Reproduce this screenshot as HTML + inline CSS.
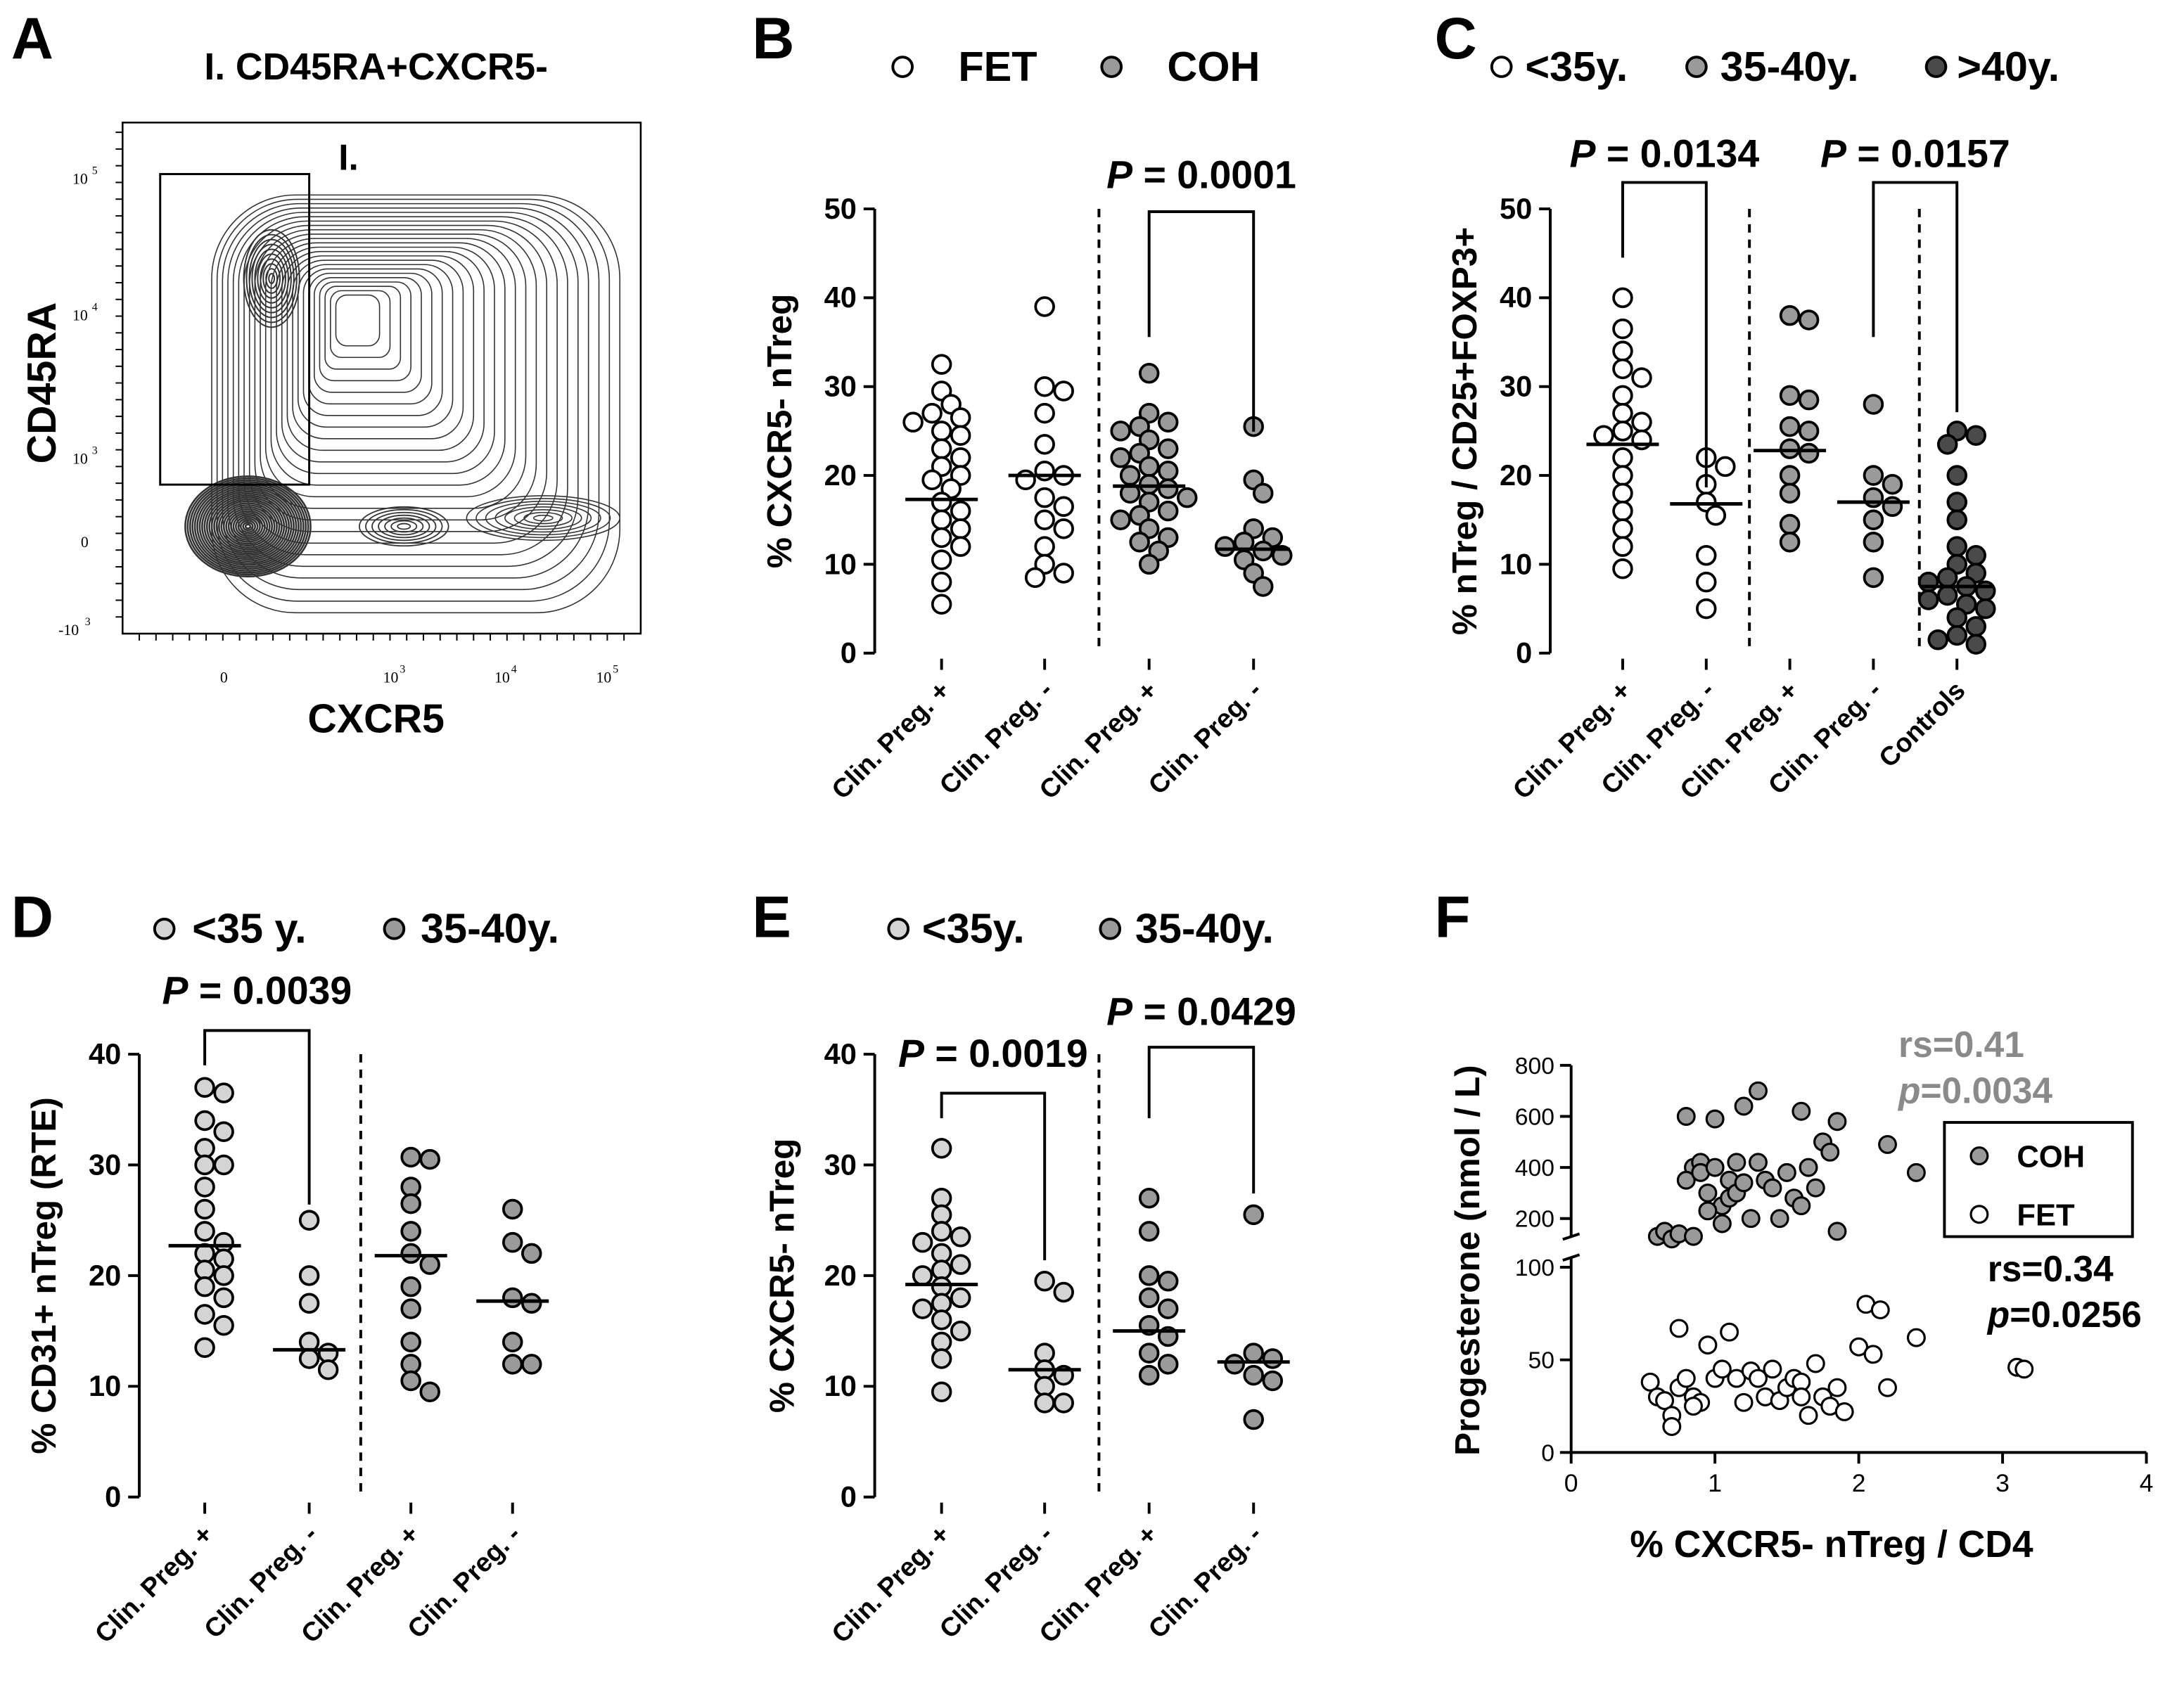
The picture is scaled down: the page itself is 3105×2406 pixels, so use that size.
<!DOCTYPE html>
<html><head><meta charset="utf-8">
<style>
html,body{margin:0;padding:0;background:#fff;}
svg{display:block;font-family:"Liberation Sans",Arial,sans-serif;font-weight:bold;}
</style></head>
<body>
<svg id="fig" width="3105" height="2406" viewBox="0 0 1568 1215" xmlns="http://www.w3.org/2000/svg">
<rect width="1568" height="1215" fill="#fff"/>
<text x="8" y="42" font-size="42">A</text>
<text x="540" y="42" font-size="42">B</text>
<text x="1030" y="42" font-size="42">C</text>
<text x="8" y="673" font-size="42">D</text>
<text x="540" y="673" font-size="42">E</text>
<text x="1030" y="673" font-size="42">F</text>

<g>
<text x="270" y="57" font-size="27" text-anchor="middle">I. CD45RA+CXCR5-</text>
<rect x="88" y="88" width="372" height="367" fill="none" stroke="#000" stroke-width="1.3"/>
<g id="contours" fill="none" stroke="#333" stroke-width="0.9"></g>
<rect x="115" y="125" width="107" height="223" fill="none" stroke="#000" stroke-width="1.5"/>
<text x="243" y="122" font-size="26">I.</text>
<text x="270" y="526" font-size="29" text-anchor="middle">CXCR5</text>
<text transform="translate(40,275) rotate(-90)" font-size="29" text-anchor="middle">CD45RA</text>
<g font-size="11" font-weight="normal" font-family="Liberation Serif,serif">
<text x="52" y="132">10</text><text x="66" y="125" font-size="8">5</text>
<text x="52" y="230">10</text><text x="66" y="223" font-size="8">4</text>
<text x="52" y="333">10</text><text x="66" y="326" font-size="8">3</text>
<text x="58" y="393">0</text>
<text x="42" y="456">-10</text><text x="61" y="449" font-size="8">3</text>
</g>
<g font-size="11" font-weight="normal" font-family="Liberation Serif,serif">
<text x="158" y="490">0</text>
<text x="275" y="490">10</text><text x="287" y="483" font-size="8">3</text>
<text x="355" y="490">10</text><text x="367" y="483" font-size="8">4</text>
<text x="428" y="490">10</text><text x="440" y="483" font-size="8">5</text>
</g>
<g id="flowticks" stroke="#000" stroke-width="1"></g>
</g>

<g id="charts"></g>
</svg>
<script>
const NS="http://www.w3.org/2000/svg";
const root=document.getElementById('charts');
function mk(tag,attrs,parent){const e=document.createElementNS(NS,tag);for(const k in attrs)e.setAttribute(k,attrs[k]);(parent||root).appendChild(e);return e;}
function txt(s,attrs,parent){const e=mk('text',attrs,parent);e.textContent=s;return e;}

(function(){
 const g=document.getElementById('contours');
 function blob(cx,cy,rx,ry,n,sw){for(let i=1;i<=n;i++){const e=mk('ellipse',{cx:cx,cy:cy,rx:rx*i/n,ry:ry*i/n,'stroke-width':sw},g);
 
 }}
 // large rounded region
 const n=24;
 for(let i=0;i<n;i++){
  const f=i/n;
  const x1=152+f*(245-152), x2=445-f*(445-265), y1=140+f*(215-140), y2=440-f*(440-240);
  const r=Math.max(8,60*(1-f));
  const e=mk('rect',{x:x1,y:y1,width:x2-x1,height:y2-y1,rx:r,ry:r,'stroke-width':0.8},g);
  
  
 }
 blob(178,378,45,36,26,1.3);
 blob(195,200,20,35,10,1);
 blob(290,378,32,14,7,0.9);
 blob(390,372,55,16,8,0.8);
 const t=document.getElementById('flowticks');
 for(let i=0;i<30;i++){const x=100+i*12;const l=mk('line',{x1:x,y1:455,x2:x,y2:460},t);}
 for(let i=0;i<30;i++){const y=95+i*12;const l=mk('line',{x1:83,y1:y,x2:88,y2:y},t);}
})();

const catLabels=["Clin. Preg. +","Clin. Preg. -","Clin. Preg. +","Clin. Preg. -"];
const catLabelsC=["Clin. Preg. +","Clin. Preg. -","Clin. Preg. +","Clin. Preg. -","Controls"];
const yTicks50=[0,10,20,30,40,50];
const yTicks40=[0,10,20,30,40];

const B1=[32.5,29.5,28,27,26,25,26.5,24.5,23,22,21,20,19.5,18.5,17,16,15,14,13,12,10.5,8,5.5];
const B2=[39,30,29.5,27,23.5,20.5,20,19.5,17.5,16.5,15,14,12,10,9,8.5];
const B3=[31.5,27,26,25.5,25,24,23,22.5,22,21,20.5,20,19,18.5,18,17.5,17,16,15.5,15,14,13,12.5,11.5,10];
const B4=[25.5,19.5,18,14,13,12.5,12,11.5,11,10.5,9,7.5];
const Bmed=[17.3,20,18.8,11.7];

const C1=[40,36.5,34,32,31,29,27,26,25,24.5,24,22,20,18,16,14,12,9.5];
const C2=[22,21,19,17,15.5,11,8,5];
const C3=[38,37.5,29,28.5,25.5,25,23,22.5,20,18,14.5,12.5];
const C4=[28,20,19,17.5,16.5,15,12.5,8.5];
const C5=[25,24.5,23.5,20,17,15,12,11,10,9,8.5,8,7.5,7,6.5,6,5.5,5,4,3,2,1.5,1];
const Cmed=[23.5,16.8,22.8,17,7.5];

const D1=[37,36.5,34,33,31.5,30,30,28,26,24,23,22,21.5,20.5,20,19,18,16.5,15.5,13.5];
const D2=[25,20,17.5,14,12.5,13,11.5];
const D3=[30.5,30.7,28,26.5,24,22,21,19,17,14,12,9.5,10.5];
const D4=[26,23,22,18,17.5,14,12,12];
const Dmed=[22.7,13.3,21.8,17.7];

const E1=[31.5,27,25.5,24,23.5,23,22,21,20.5,20,19,18,17.5,17,16,15,14,12.5,9.5];
const E2=[19.5,18.5,13,11.5,11,10,8.5,8.5];
const E3=[27,24,20,19.5,18,17,15.5,14.5,13,12,11];
const E4=[25.5,13,12.5,12,11,10.5,7];
const Emed=[19.2,11.5,15,12.2];

const F_cohX=[0.6,0.65,0.7,0.75,0.8,0.85,0.9,0.95,0.8,0.85,0.9,1.0,1.0,1.05,1.1,1.1,1.15,1.15,1.2,1.2,1.25,1.3,1.3,1.35,1.4,1.45,1.5,1.55,1.6,1.6,1.65,1.7,1.75,1.8,1.85,1.85,2.2,2.4,1.05,0.95];
const F_cohY=[130,150,120,140,600,400,420,300,350,130,380,590,400,250,350,280,420,300,640,340,200,700,420,350,320,200,380,280,620,250,400,320,500,460,580,150,490,380,180,230];
const F_fetX=[0.55,0.6,0.65,0.7,0.7,0.75,0.75,0.8,0.85,0.9,0.95,1.0,1.05,1.1,1.15,1.2,1.25,1.3,1.35,1.4,1.45,1.5,1.55,1.6,1.65,1.7,1.75,1.8,1.85,1.9,2.0,2.05,2.1,2.15,2.2,2.4,3.1,3.15,0.85,1.6];
const F_fetY=[38,30,28,20,14,67,35,40,30,27,58,40,45,65,40,27,44,40,30,45,28,35,40,38,20,48,30,25,35,22,57,80,53,77,35,62,46,45,25,30];
const FxTicks=[0,1,2,3,4];
const FyLow=[0,50,100];
const FyHigh=[200,400,600,800];

const WHITE="#ffffff",LIGHT="#d4d4d4",GREY="#9a9a9a",DARK="#4a4a4a";
const R=6.5;

function swarm(vals,cx,yf,fill,g,name){
 const placed=[];
 const sorted=vals.slice().sort((a,b)=>b-a);
 sorted.forEach(v=>{
  const y=yf(v);let x=cx;
  const cands=[0];for(let k=1;k<8;k++){cands.push(k*R*1.05,-k*R*1.05);}
  for(const o of cands){const xx=cx+o;if(placed.every(p=>Math.hypot(p[0]-xx,p[1]-y)>=2*R-1.5)){x=xx;break;}}
  placed.push([x,y]);
  const c=mk('circle',{cx:x,cy:y,r:R,fill:fill,stroke:'#000','stroke-width':1.9},g);
  
  
 });
}

function dotPanel(o){
 const g=mk('g',{});
 
 
 const yf=v=>o.y0-v/o.ymax*(o.y0-o.y1);
 const ax=mk('line',{x1:o.ax,y1:o.y1,x2:o.ax,y2:o.y0,stroke:'#000','stroke-width':2},g);
 
 o.ticks.forEach(t=>{
  const l=mk('line',{x1:o.ax-8,y1:yf(t),x2:o.ax,y2:yf(t),stroke:'#000','stroke-width':2},g);
  
  const tx=txt(String(t),{x:o.ax-13,y:yf(t)+7,'font-size':21,'text-anchor':'end'},g);
  
 });
 const yt=txt(o.ytitle,{transform:`translate(${o.ytx},${(o.y0+o.y1)/2}) rotate(-90)`,'font-size':25,'text-anchor':'middle'},g);
 
 o.cols.forEach((cx,i)=>{
  const l=mk('line',{x1:cx,y1:o.y0+4,x2:cx,y2:o.y0+12,stroke:'#000','stroke-width':2},g);
  
  const t=txt(o.labels[i],{transform:`translate(${cx+7},${o.y0+28}) rotate(-45)`,'font-size':19,'text-anchor':'end'},g);
  
 });
 o.dashes.forEach(x=>{const d=mk('line',{x1:x,y1:o.y1,x2:x,y2:o.y0,stroke:'#000','stroke-width':2,'stroke-dasharray':'6,5'},g);
  });
 o.data.forEach((arr,i)=>swarm(arr,o.cols[i],yf,o.fills[i],g,'data-point'));
 o.med.forEach((m,i)=>{const l=mk('line',{x1:o.cols[i]-26,y1:yf(m),x2:o.cols[i]+26,y2:yf(m),stroke:'#000','stroke-width':2.5},g);
  });
 o.brackets.forEach(b=>{
  const p=mk('path',{d:`M${b.x1},${b.l1}V${b.top}H${b.x2}V${b.l2}`,fill:'none',stroke:'#000','stroke-width':2},g);
  
  const t=mk('text',{x:(b.x1+b.x2)/2+(b.dx||0),y:b.ty,'font-size':28,'text-anchor':'middle'},g);
  
  const it=mk('tspan',{'font-style':'italic'},t);it.textContent='P';
  const rest=mk('tspan',{},t);rest.textContent=' = '+b.p;
 });
 o.legend.forEach(l=>{
  const c=mk('circle',{cx:l.cx,cy:l.cy,r:7,fill:l.fill,stroke:'#000','stroke-width':2},g);
  
  const t=txt(l.t,{x:l.cx+l.gap,y:l.cy+10,'font-size':30},g);
  
 });
}

dotPanel({name:'panel-b',ax:628,y0:469,y1:150,ymax:50,ticks:yTicks50,ytitle:'% CXCR5- nTreg',ytx:568,
 cols:[676,750,825,900],labels:catLabels,dashes:[789],data:[B1,B2,B3,B4],fills:[WHITE,WHITE,GREY,GREY],med:Bmed,
 brackets:[{x1:825,x2:900,top:152,l1:242,l2:310,ty:135,p:'0.0001'}],
 legend:[{cx:648,cy:48,fill:WHITE,t:'FET',gap:40},{cx:798,cy:48,fill:GREY,t:'COH',gap:40}]});

dotPanel({name:'panel-c',ax:1113,y0:469,y1:150,ymax:50,ticks:yTicks50,ytitle:'% nTreg / CD25+FOXP3+',ytx:1060,
 cols:[1165,1225,1285,1345,1405],labels:catLabelsC,dashes:[1256,1378],data:[C1,C2,C3,C4,C5],fills:[WHITE,WHITE,GREY,GREY,DARK],med:Cmed,
 brackets:[{x1:1165,x2:1225,top:131,l1:185,l2:350,ty:120,p:'0.0134'},{x1:1345,x2:1405,top:131,l1:242,l2:296,ty:120,p:'0.0157'}],
 legend:[{cx:1078,cy:48,fill:WHITE,t:'<35y.',gap:17},{cx:1218,cy:48,fill:GREY,t:'35-40y.',gap:17},{cx:1390,cy:48,fill:DARK,t:'>40y.',gap:15}]});

dotPanel({name:'panel-d',ax:100,y0:1075,y1:757,ymax:40,ticks:yTicks40,ytitle:'% CD31+ nTreg (RTE)',ytx:40,
 cols:[147,222,295,368],labels:catLabels,dashes:[259],data:[D1,D2,D3,D4],fills:[LIGHT,LIGHT,GREY,GREY],med:Dmed,
 brackets:[{x1:147,x2:222,top:740,l1:765,l2:865,ty:721,p:'0.0039'}],
 legend:[{cx:118,cy:667,fill:LIGHT,t:'<35 y.',gap:20},{cx:283,cy:667,fill:GREY,t:'35-40y.',gap:19}]});

dotPanel({name:'panel-e',ax:628,y0:1075,y1:757,ymax:40,ticks:yTicks40,ytitle:'% CXCR5- nTreg',ytx:570,
 cols:[676,750,825,900],labels:catLabels,dashes:[789],data:[E1,E2,E3,E4],fills:[LIGHT,LIGHT,GREY,GREY],med:Emed,
 brackets:[{x1:676,x2:750,top:785,l1:803,l2:905,ty:766,p:'0.0019'},{x1:825,x2:900,top:752,l1:803,l2:857,ty:736,p:'0.0429'}],
 legend:[{cx:645,cy:667,fill:LIGHT,t:'<35y.',gap:17},{cx:797,cy:667,fill:GREY,t:'35-40y.',gap:18}]});

(function(){
 const g=mk('g',{});
 
 
 const x0=1128,x4=1541,yB=1043;
 const xf=v=>x0+v*(x4-x0)/4;
 const yLow=v=>yB-v*(yB-910)/100;
 const yHigh=v=>875-(v-200)*(875-765)/600;
 const a1=mk('line',{x1:x0,y1:yB,x2:x4,y2:yB,stroke:'#000','stroke-width':2},g);
 
 const a2=mk('line',{x1:x0,y1:yB,x2:x0,y2:903,stroke:'#000','stroke-width':2},g);
 
 const a3=mk('line',{x1:x0,y1:888,x2:x0,y2:765,stroke:'#000','stroke-width':2},g);
 
 const b1=mk('line',{x1:x0-6,y1:905,x2:x0+6,y2:901,stroke:'#000','stroke-width':2},g);
 
 const b2=mk('line',{x1:x0-6,y1:890,x2:x0+6,y2:886,stroke:'#000','stroke-width':2},g);
 
 FxTicks.forEach(t=>{
  const l=mk('line',{x1:xf(t),y1:yB,x2:xf(t),y2:yB+8,stroke:'#000','stroke-width':2},g);
  
  const tx=txt(String(t),{x:xf(t),y:yB+28,'font-size':18,'text-anchor':'middle','font-weight':'normal'},g);
  
 });
 FyLow.forEach(t=>{
  const l=mk('line',{x1:x0-8,y1:yLow(t),x2:x0,y2:yLow(t),stroke:'#000','stroke-width':2},g);
  
  const tx=txt(String(t),{x:x0-12,y:yLow(t)+6,'font-size':17,'text-anchor':'end','font-weight':'normal'},g);
  
 });
 FyHigh.forEach(t=>{
  const l=mk('line',{x1:x0-8,y1:yHigh(t),x2:x0,y2:yHigh(t),stroke:'#000','stroke-width':2},g);
  
  const tx=txt(String(t),{x:x0-12,y:yHigh(t)+6,'font-size':17,'text-anchor':'end','font-weight':'normal'},g);
  
 });
 const xt=txt('% CXCR5- nTreg / CD4',{x:1315,y:1118,'font-size':27,'text-anchor':'middle'},g);
 
 const yt=txt('Progesterone (nmol / L)',{transform:'translate(1062,905) rotate(-90)','font-size':25,'text-anchor':'middle'},g);
 
 F_cohX.forEach((x,i)=>{
  const c=mk('circle',{cx:xf(x),cy:yHigh(F_cohY[i]),r:6,fill:GREY,stroke:'#000','stroke-width':1.6},g);
  
 });
 F_fetX.forEach((x,i)=>{
  const c=mk('circle',{cx:xf(x),cy:yLow(F_fetY[i]),r:6,fill:WHITE,stroke:'#000','stroke-width':1.6},g);
  
 });
 const lb=mk('rect',{x:1396,y:806,width:135,height:82,fill:'#fff',stroke:'#000','stroke-width':2},g);
 
 const lc1=mk('circle',{cx:1421,cy:830,r:6,fill:GREY,stroke:'#000','stroke-width':1.6},g);
 
 const lt1=txt('COH',{x:1448,y:838,'font-size':22},g);
 
 const lc2=mk('circle',{cx:1421,cy:872,r:6,fill:WHITE,stroke:'#000','stroke-width':1.6},g);
 
 const lt2=txt('FET',{x:1448,y:880,'font-size':22},g);
 
 const r1=txt('rs=0.41',{x:1363,y:759,'font-size':26,fill:'#8a8a8a'},g);
 
 const p1=mk('text',{x:1363,y:792,'font-size':26,fill:'#8a8a8a'},g);
 
 const pi1=mk('tspan',{'font-style':'italic'},p1);pi1.textContent='p';
 const pr1=mk('tspan',{},p1);pr1.textContent='=0.0034';
 const r2=txt('rs=0.34',{x:1427,y:920,'font-size':26},g);
 
 const p2=mk('text',{x:1427,y:953,'font-size':26},g);
 
 const pi2=mk('tspan',{'font-style':'italic'},p2);pi2.textContent='p';
 const pr2=mk('tspan',{},p2);pr2.textContent='=0.0256';
})();
</script>
</body></html>
